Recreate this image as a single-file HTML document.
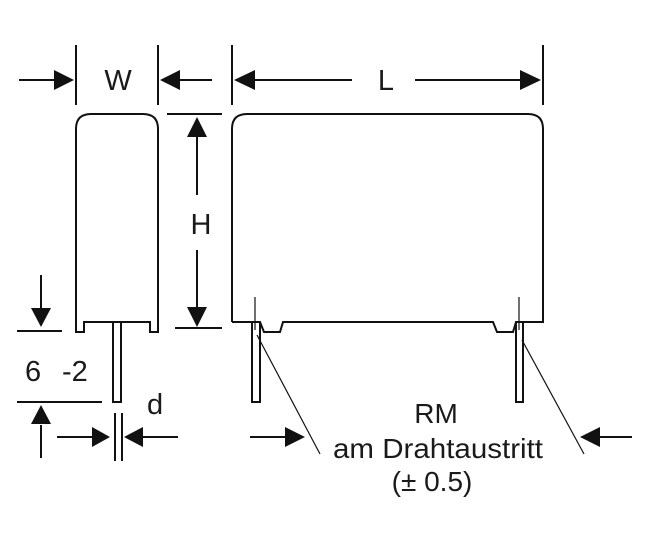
<!DOCTYPE html>
<html><head><meta charset="utf-8"><style>
html,body{margin:0;padding:0;background:#fff;width:650px;height:543px;overflow:hidden}
svg{display:block}
text{font-family:"Liberation Sans",sans-serif;fill:#1a1a1a}
</style></head><body>
<svg width="650" height="543" viewBox="0 0 650 543" xmlns="http://www.w3.org/2000/svg">
<g stroke="#111" stroke-width="2" fill="none">
<line x1="76" y1="45" x2="76" y2="105"/><line x1="158" y1="45" x2="158" y2="105"/>
<line x1="19" y1="80" x2="60" y2="80"/><line x1="175" y1="80" x2="212" y2="80"/>
<line x1="232" y1="45" x2="232" y2="105"/><line x1="543" y1="45" x2="543" y2="105"/>
<line x1="250" y1="80" x2="352" y2="80"/><line x1="415" y1="80" x2="525" y2="80"/>
<path d="M76,332 L76,129 Q76,114 91,114 L143,114 Q158,114 158,129 L158,332 L150,332 L150,322 L84,322 L84,332 Z"/>
<path d="M113,322 L113,402 L121,402 L121,322"/>
<line x1="167" y1="114" x2="222" y2="114"/><line x1="175" y1="328" x2="222" y2="328"/>
<line x1="197" y1="135" x2="197" y2="195"/><line x1="197" y1="250" x2="197" y2="310"/>
<path d="M232,322 L232,129 Q232,114 247,114 L528,114 Q543,114 543,129 L543,322 L523,322 L516,322 L513,332 L497,332 L493,322 L283,322 L280,332 L264,332 L260,322 L232,322"/>
<path d="M252,322 L252,402 L260,402 L260,322"/>
<path d="M516,322 L516,402 L523,402 L523,322"/>
<line x1="17" y1="331" x2="62" y2="331"/><line x1="41" y1="275" x2="41" y2="310"/>
<line x1="17" y1="402" x2="102" y2="402"/><line x1="41" y1="425" x2="41" y2="458"/>
<line x1="57" y1="437" x2="95" y2="437"/><line x1="140" y1="437" x2="178" y2="437"/>
<line x1="115" y1="413" x2="115" y2="461"/><line x1="122" y1="413" x2="122" y2="461"/>
<line x1="250" y1="437" x2="288" y2="437"/><line x1="597" y1="437" x2="632" y2="437"/>
</g>
<g stroke="#111" stroke-width="1.2" fill="none">
<line x1="255" y1="297" x2="255" y2="330"/><line x1="519" y1="297" x2="519" y2="330"/>
<line x1="257" y1="335" x2="320" y2="454"/><line x1="522" y1="340" x2="584" y2="454"/>
</g>
<g fill="#111">
<polygon points="74,80 54,70 54,90"/>
<polygon points="160,80 180,70 180,90"/>
<polygon points="234,80 255,70 255,90"/>
<polygon points="541,80 520,70 520,90"/>
<polygon points="197,117 187,137 207,137"/>
<polygon points="197,327 187,307 207,307"/>
<polygon points="41,327 31,308 51,308"/>
<polygon points="41,405 31,424 51,424"/>
<polygon points="110,437 92,427 92,447"/>
<polygon points="124,437 143,427 143,447"/>
<polygon points="305,437 285,427 285,447"/>
<polygon points="580,437 600,427 600,447"/>
</g>
<text x="118" y="90" font-size="29" text-anchor="middle">W</text>
<text x="386" y="90" font-size="29" text-anchor="middle">L</text>
<text x="201" y="234" font-size="29" text-anchor="middle">H</text>
<text x="25" y="381" font-size="29">6</text>
<text x="62" y="381" font-size="29">-2</text>
<text x="147" y="414" font-size="29">d</text>
<text x="436" y="423" font-size="28" text-anchor="middle">RM</text>
<text x="438" y="458" font-size="28" text-anchor="middle" textLength="210" lengthAdjust="spacingAndGlyphs">am Drahtaustritt</text>
<text x="432" y="491" font-size="28" text-anchor="middle">(± 0.5)</text>
</svg>
</body></html>
